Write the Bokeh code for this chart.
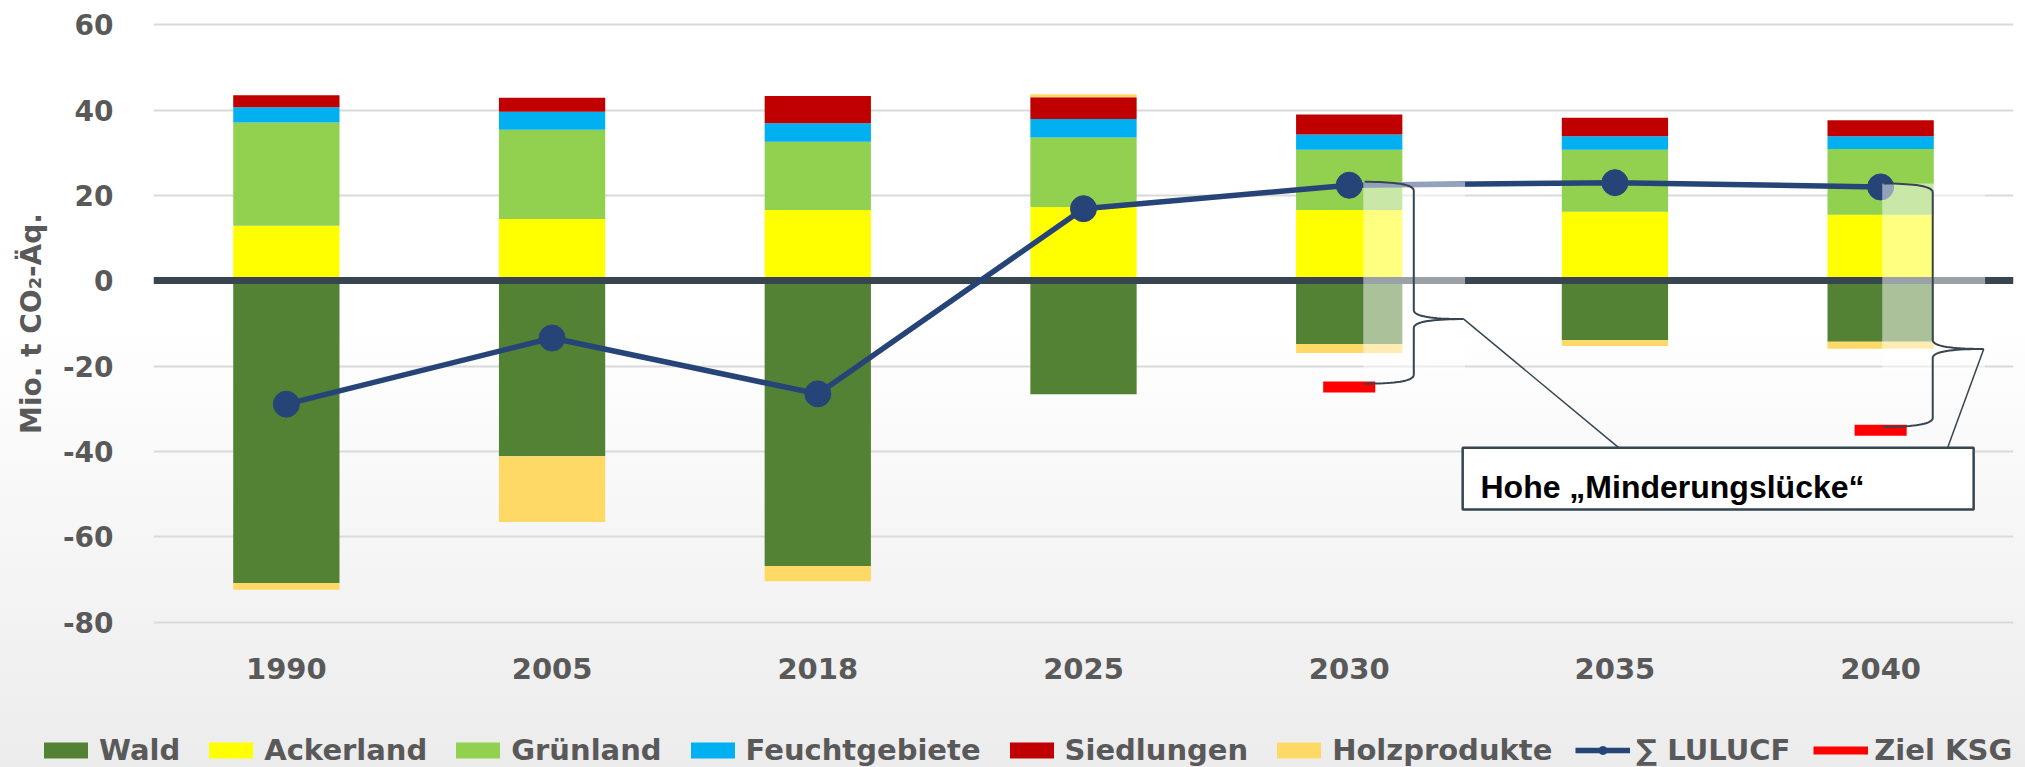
import numpy as np
from bokeh.plotting import figure
from bokeh.models import (FactorRange, Range1d, Legend, LegendItem, FixedTicker,
                          ColumnDataSource)
from bokeh.core.properties import value
from bokeh.embed import file_html
from bokeh.resources import INLINE

# ---------------- data (Mio. t CO2-Äq.) ----------------
years = ["1990", "2005", "2018", "2025", "2030", "2035", "2040"]
wald = [-70.8, -41.1, -66.8, -26.6, -14.8, -13.9, -14.3]
ackerland = [12.9, 14.5, 16.6, 17.3, 16.6, 16.2, 15.5]
gruenland = [24.2, 20.9, 16.0, 16.3, 14.1, 14.5, 15.4]
feuchtgebiete = [3.6, 4.2, 4.3, 4.3, 3.6, 3.2, 3.0]
siedlungen = [2.8, 3.3, 6.4, 5.1, 4.7, 4.3, 3.7]
holzprodukte = [-1.6, -15.4, -3.6, 0.7, -2.1, -1.4, -1.6]
lulucf = [-28.9, -13.4, -26.5, 16.9, 22.4, 23.0, 22.0]
ziel_years = ["2030", "2040"]
ziel_ksg = [-24.9, -35.0]
y_ticks = [-80, -60, -40, -20, 0, 20, 40, 60]
y_tick_labels = ["-80", "-60", "-40", "-20", "0", "20", "40", "60"]

series_names = ["Wald", "Ackerland", "Grünland", "Feuchtgebiete", "Siedlungen", "Holzprodukte"]
series_vals = [wald, ackerland, gruenland, feuchtgebiete, siedlungen, holzprodukte]
series_colors = ["#548235", "#FFFF00", "#92D050", "#00B0F0", "#C00000", "#FFD966"]

GRAY = "#595959"
SLATE = "#36454F"
LBLUE = "#264478"
FONT = "DejaVu Sans"

MAIN_H, LEG_H = 700, 67

p = figure(x_range=FactorRange(*years), y_range=Range1d(-81, 61),
           width=2025, height=MAIN_H, output_backend="svg", toolbar_location=None,
           min_border_left=153, min_border_right=12, min_border_top=20,
           min_border_bottom=MAIN_H - 626,
           background_fill_color=None, border_fill_color=None, outline_line_color=None)
p.styles = {"background": "linear-gradient(to bottom, #ffffff 0px, #ffffff 322px, #efefef 700px)"}

# axes
p.yaxis.ticker = FixedTicker(ticks=y_ticks)
p.yaxis.major_label_overrides = dict(zip(y_ticks, y_tick_labels))
for ax in (p.xaxis[0], p.yaxis[0]):
    ax.axis_line_color = None
    ax.major_tick_line_color = None
    ax.minor_tick_line_color = None
    ax.major_tick_out = 0
    ax.major_tick_in = 0
    ax.major_label_text_font = FONT
    ax.major_label_text_font_style = "bold"
    ax.major_label_text_color = GRAY
p.yaxis.major_label_text_font_size = "28px"
p.yaxis.major_label_standoff = 40
p.xaxis.major_label_text_font_size = "29px"
p.xaxis.major_label_standoff = 31
p.yaxis.axis_label = "Mio. t CO₂-Äq."
p.yaxis.axis_label_text_font = FONT
p.yaxis.axis_label_text_font_style = "bold"
p.yaxis.axis_label_text_font_size = "28px"
p.yaxis.axis_label_text_color = GRAY
p.yaxis.axis_label_standoff = 12
p.xgrid.grid_line_color = None
p.ygrid.grid_line_color = "#D9D9D9"
p.ygrid.grid_line_width = 2

# stacked bars (positive and negative stacked separately)
pos = np.zeros(len(years))
neg = np.zeros(len(years))
for name, vals, col in zip(series_names, series_vals, series_colors):
    v = np.array(vals, dtype=float)
    bottom = np.where(v >= 0, pos, neg + v)
    top = np.where(v >= 0, pos + v, neg)
    pos = np.where(v >= 0, pos + v, pos)
    neg = np.where(v < 0, neg + v, neg)
    src = ColumnDataSource(dict(x=years, top=top, bottom=bottom))
    p.vbar(x="x", top="top", bottom="bottom", width=0.4, source=src,
           fill_color=col, line_color=None)

# zero line
p.hspan(y=[0], line_color=SLATE, line_width=7)

# LULUCF sum line
p.line(years, lulucf, line_color=LBLUE, line_width=5.5)
p.scatter(years, lulucf, size=26, fill_color=LBLUE, line_color=LBLUE)

# Ziel KSG
p.rect(x=ziel_years, y=ziel_ksg, width=0.196, height=11, height_units="screen",
       fill_color="#FF0000", line_color=None)

# ---------------- annotation: Minderungslücke ----------------
brace_end_off = [0.058, 0.011]
brace_spine_off = [0.243, 0.196]
brace_tip_off = [0.431, 0.388]
callout_x = [5.514, 6.752]
box_l, box_r, box_t, box_b = 4.927, 6.850, -39.1, -53.6
r_c = 2.1


def qbez(p0, c, p1, n=20):
    t = np.linspace(0, 1, n)[:, None]
    return (1 - t) ** 2 * np.array(p0) + 2 * (1 - t) * t * np.array(c) + t ** 2 * np.array(p1)


for k, yr in enumerate(ziel_years):
    i = years.index(yr)
    xc = i + 0.5
    yt = lulucf[i] + 0.8
    yb = ziel_ksg[k] + 0.8
    ym = yt - 0.68 * (yt - yb)
    xe, xs, xt = xc + brace_end_off[k], xc + brace_spine_off[k], xc + brace_tip_off[k]
    # translucent highlight
    p.quad(left=[xe - 0.005], right=[xt + 0.005], top=[yt], bottom=[-21.5],
           fill_color="white", fill_alpha=0.5, line_color=None)
    pts = np.vstack([
        qbez((xe, yt), (xs, yt), (xs, yt - r_c)),
        qbez((xs, ym + r_c), (xs, ym), (xt, ym)),
        qbez((xt, ym), (xs, ym), (xs, ym - r_c)),
        qbez((xs, yb + r_c), (xs, yb), (xe, yb)),
    ])
    p.line(pts[:, 0], pts[:, 1], line_color=SLATE, line_width=2)
    p.line([xt, callout_x[k]], [ym, box_t], line_color=SLATE, line_width=1.5)

p.quad(left=[box_l], right=[box_r], top=[box_t], bottom=[box_b],
       fill_color="white", line_color=SLATE, line_width=2.5)
p.text(x=[4.994], y=[-48.4], text=["Hohe „Minderungslücke“"],
       text_font=value("Liberation Sans"), text_font_style="bold",
       text_font_size="32px", text_color="black", text_baseline="alphabetic")

# ---------------- legend strip (separate root so the legend is not clipped) ----------------
q = figure(width=2025, height=LEG_H, x_range=Range1d(0, 1), y_range=Range1d(0, 1),
           output_backend="svg", toolbar_location=None,
           x_axis_location=None, y_axis_location=None,
           min_border_left=0, min_border_right=0, min_border_top=0, min_border_bottom=0,
           background_fill_color=None, border_fill_color=None, outline_line_color=None)
q.grid.visible = False
q.styles = {"background": "linear-gradient(to bottom, #efefef, #ececec)"}

nan = [np.nan]
items = []
for name, col in zip(series_names, series_colors):
    r = q.vbar(x=[0.5], top=nan, bottom=nan, width=0.1, fill_color=col, line_color=None)
    items.append(LegendItem(label=name, renderers=[r]))
l1 = q.line(x=[0.5], y=nan, line_color=LBLUE, line_width=5.5)
l2 = q.scatter(x=[0.5], y=nan, size=26, fill_color=LBLUE, line_color=LBLUE)
items.append(LegendItem(label="∑ LULUCF", renderers=[l1, l2]))
l3 = q.line(x=[0.5], y=nan, line_color="#FF0000", line_width=8)
items.append(LegendItem(label="Ziel KSG", renderers=[l3]))

legend = Legend(items=items, location=(38, 0), orientation="horizontal",
                glyph_width=55, glyph_height=20, label_standoff=6, spacing=23,
                padding=0, margin=0, border_line_color=None, background_fill_alpha=0,
                label_text_font=FONT, label_text_font_style="bold",
                label_text_font_size="29px", label_text_color=GRAY)
q.add_layout(legend)

open("out.html", "w").write(file_html([p, q], INLINE))
